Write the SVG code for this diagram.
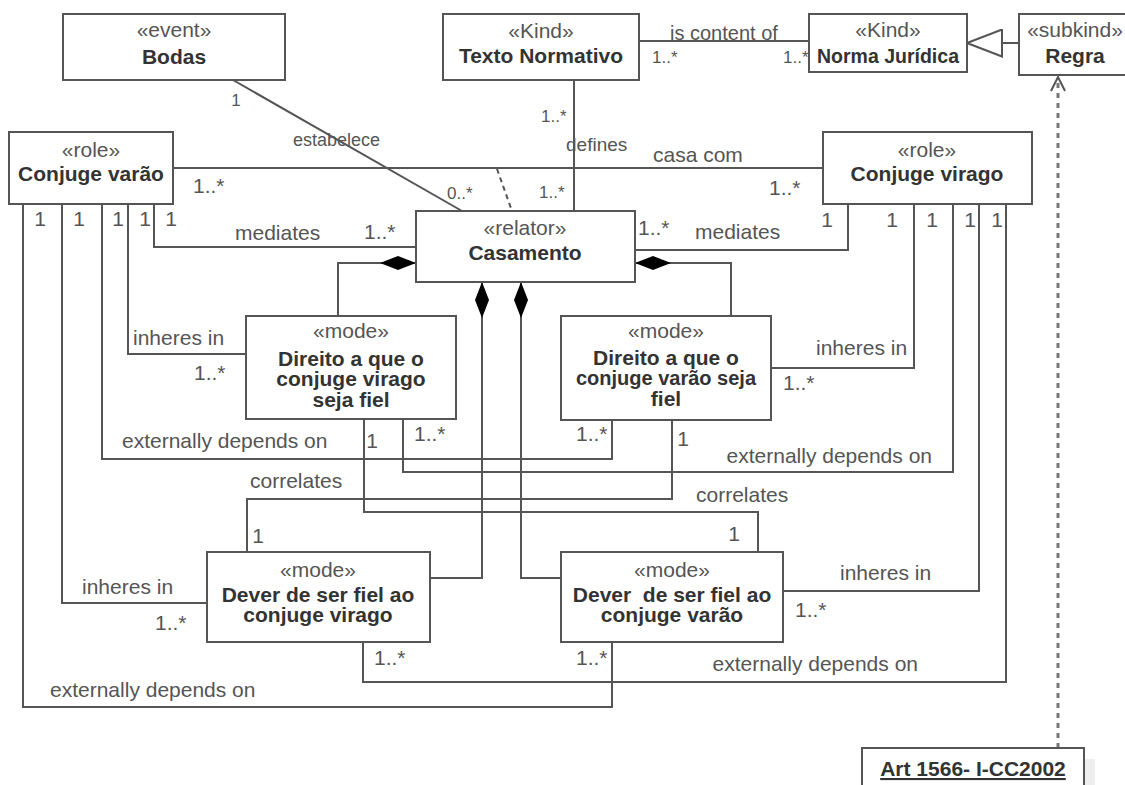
<svg xmlns="http://www.w3.org/2000/svg" width="1125" height="785" viewBox="0 0 1125 785">
<style>
text { font-family: "Liberation Sans", Arial, sans-serif; }
.box { fill: #fff; stroke: #555; stroke-width: 2; }
.st { font-size: 21px; fill: #555; text-anchor: middle; }
.nm { font-size: 21px; font-weight: bold; fill: #333; text-anchor: middle; }
.lb { font-size: 21px; fill: #555; }
.sm { font-size: 17px; fill: #555; }
.mid { text-anchor: middle; }
.end { text-anchor: end; }
.ln { fill: none; stroke: #555; stroke-width: 2; }
.dash { fill: none; stroke: #555; stroke-width: 2; stroke-dasharray: 5 4; }
.dot { fill: none; stroke: #777; stroke-width: 3; stroke-dasharray: 5 5; }
</style>
<defs>
<marker id="diamond" markerUnits="userSpaceOnUse" viewBox="0 0 36 14" refX="0" refY="7" markerWidth="36" markerHeight="14" orient="auto">
<path d="M0,7 L18,0 L36,7 L18,14 Z" fill="#000"/>
</marker>
<marker id="gen" markerUnits="userSpaceOnUse" viewBox="0 0 37 29" refX="36" refY="14.5" markerWidth="37" markerHeight="29" orient="auto">
<path d="M1,1 L36,14.5 L1,28 Z" fill="#fff" stroke="#555" stroke-width="2"/>
</marker>
</defs>
<rect width="1125" height="785" fill="#fff"/>

<g id="connectors">
<path class="ln" d="M233,80 L462,211"/>
<path class="ln" d="M173,168 L823,168"/>
<path class="dash" d="M497,169 L512,211"/>
<path class="ln" d="M574,80 L574,211"/>
<path class="ln" d="M639,41 L809,41"/>
<path class="ln" d="M1019,43 L967,43" marker-end="url(#gen)"/>
<path class="dot" d="M1058,748 L1058,80"/>
<polyline class="ln" points="1051,91 1058,77 1065,91"/>
<path class="ln" d="M154,204 L154,247 L416,247"/>
<path class="ln" d="M128,204 L128,354 L246,354"/>
<path class="ln" d="M102,204 L102,459 L612,459 L612,420"/>
<path class="ln" d="M62,204 L62,603 L207,603"/>
<path class="ln" d="M23,204 L23,707 L612,707 L612,642"/>
<path class="ln" d="M848,204 L848,250 L635,250"/>
<path class="ln" d="M914,204 L914,368 L771,368"/>
<path class="ln" d="M953,204 L953,472 L403,472 L403,419"/>
<path class="ln" d="M979,204 L979,591 L783,591"/>
<path class="ln" d="M1006,204 L1006,682 L363,682 L363,642"/>
<path class="ln" d="M672,420 L672,499 L247,499 L247,552"/>
<path class="ln" d="M364,419 L364,512 L758,512 L758,552"/>
<path class="ln" d="M416,263 L338,263 L338,316" marker-start="url(#diamond)"/>
<path class="ln" d="M635,263 L731,263 L731,316" marker-start="url(#diamond)"/>
<path class="ln" d="M482,282 L482,578 L430,578" marker-start="url(#diamond)"/>
<path class="ln" d="M521,282 L521,578 L561,578" marker-start="url(#diamond)"/>

<text class="sm mid" x="236" y="106">1</text>
<text class="sm" x="293" y="146" style="font-size:18px">estabelece</text>
<text class="sm" x="447" y="199">0..*</text>
<text class="lb" x="193" y="193">1..*</text>
<text class="lb" x="653" y="162">casa com</text>
<text class="lb" x="769" y="195">1..*</text>
<text class="sm" x="541" y="122">1..*</text>
<text class="sm" x="566" y="151" style="font-size:19px">defines</text>
<text class="sm" x="539" y="198">1..*</text>
<text class="sm" x="670" y="40" style="font-size:20px">is content of</text>
<text class="sm" x="652" y="63">1..*</text>
<text class="sm" x="783" y="63">1..*</text>

<text class="lb mid" x="40" y="226">1</text>
<text class="lb mid" x="79" y="226">1</text>
<text class="lb mid" x="118" y="226">1</text>
<text class="lb mid" x="145" y="226">1</text>
<text class="lb mid" x="171" y="226">1</text>
<text class="lb mid" x="827" y="227">1</text>
<text class="lb mid" x="892" y="227">1</text>
<text class="lb mid" x="932" y="227">1</text>
<text class="lb mid" x="970" y="227">1</text>
<text class="lb mid" x="997" y="227">1</text>

<text class="lb" x="235" y="240">mediates</text>
<text class="lb" x="364" y="239">1..*</text>
<text class="lb" x="638" y="235">1..*</text>
<text class="lb" x="695" y="239">mediates</text>

<text class="lb" x="133" y="345">inheres in</text>
<text class="lb" x="194" y="380">1..*</text>
<text class="lb" x="816" y="355">inheres in</text>
<text class="lb" x="783" y="390">1..*</text>

<text class="lb" x="122" y="448">externally depends on</text>
<text class="lb mid" x="372" y="448">1</text>
<text class="lb" x="414" y="441">1..*</text>
<text class="lb" x="576" y="441">1..*</text>
<text class="lb mid" x="683" y="446">1</text>
<text class="lb end" x="932" y="463">externally depends on</text>

<text class="lb" x="250" y="488">correlates</text>
<text class="lb" x="696" y="502">correlates</text>
<text class="lb mid" x="258" y="543">1</text>
<text class="lb mid" x="734" y="541">1</text>

<text class="lb" x="82" y="594">inheres in</text>
<text class="lb" x="155" y="630">1..*</text>
<text class="lb" x="840" y="580">inheres in</text>
<text class="lb" x="795" y="617">1..*</text>

<text class="lb" x="374" y="665">1..*</text>
<text class="lb" x="576" y="665">1..*</text>
<text class="lb end" x="918" y="671">externally depends on</text>
<text class="lb" x="50" y="697">externally depends on</text>
</g>

<g id="bodas">
<rect class="box" x="63" y="14" width="222" height="66"/>
<text class="st" x="174" y="37">«event»</text>
<text class="nm" x="174" y="64">Bodas</text>
</g>
<g id="texto-normativo">
<rect class="box" x="443" y="14" width="196" height="66"/>
<text class="st" x="541" y="38">«Kind»</text>
<text class="nm" x="541" y="63">Texto Normativo</text>
</g>
<g id="norma-juridica">
<rect class="box" x="809" y="14" width="158" height="58"/>
<text class="st" x="888" y="37">«Kind»</text>
<text class="nm" x="888" y="63" style="font-size:19.5px">Norma Jurídica</text>
</g>
<g id="regra">
<rect class="box" x="1019" y="14" width="112" height="61"/>
<text class="st" x="1075" y="37">«subkind»</text>
<text class="nm" x="1075" y="63">Regra</text>
</g>
<g id="conjuge-varao">
<rect class="box" x="9" y="132" width="164" height="72"/>
<text class="st" x="91" y="157">«role»</text>
<text class="nm" x="91" y="181">Conjuge varão</text>
</g>
<g id="conjuge-virago">
<rect class="box" x="823" y="132" width="209" height="72"/>
<text class="st" x="927" y="157">«role»</text>
<text class="nm" x="927" y="181">Conjuge virago</text>
</g>
<g id="casamento">
<rect class="box" x="416" y="211" width="219" height="71"/>
<text class="st" x="525" y="235">«relator»</text>
<text class="nm" x="525" y="260">Casamento</text>
</g>
<g id="direito-virago">
<rect class="box" x="246" y="316" width="210" height="103"/>
<text class="st" x="351" y="338">«mode»</text>
<text class="nm" x="351" y="366">Direito a que o</text>
<text class="nm" x="351" y="386">conjuge virago</text>
<text class="nm" x="351" y="407">seja fiel</text>
</g>
<g id="direito-varao">
<rect class="box" x="561" y="316" width="210" height="104"/>
<text class="st" x="666" y="338">«mode»</text>
<text class="nm" x="666" y="365">Direito a que o</text>
<text class="nm" x="666" y="385" style="font-size:20px">conjuge varão seja</text>
<text class="nm" x="666" y="406">fiel</text>
</g>
<g id="dever-virago">
<rect class="box" x="207" y="552" width="223" height="90"/>
<text class="st" x="318" y="577">«mode»</text>
<text class="nm" x="318" y="602">Dever de ser fiel ao</text>
<text class="nm" x="318" y="622">conjuge virago</text>
</g>
<g id="dever-varao">
<rect class="box" x="561" y="552" width="222" height="90"/>
<text class="st" x="672" y="577">«mode»</text>
<text class="nm" x="672" y="602" xml:space="preserve">Dever  de ser fiel ao</text>
<text class="nm" x="672" y="622">conjuge varão</text>
</g>
<g id="art-1566">
<rect x="1084" y="759" width="11" height="30" fill="#eee"/>
<rect class="box" x="862" y="748" width="222" height="50"/>
<text class="nm" x="973" y="776" text-decoration="underline">Art 1566- I-CC2002</text>
</g>
</svg>
